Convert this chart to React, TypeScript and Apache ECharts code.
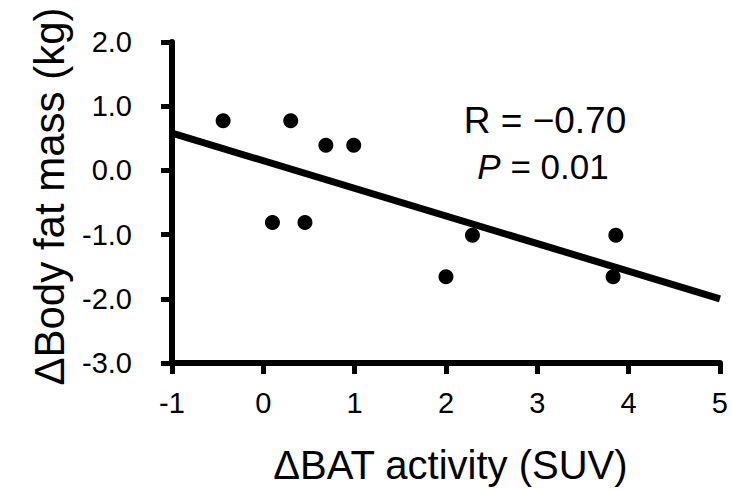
import React, { useEffect, useRef } from "react";
import * as echarts from "echarts";

const xValues = [-0.44, 0.3, 0.685, 0.99, 0.1, 0.456, 2.29, 2.0, 3.86, 3.83];
const yValues = [0.775, 0.775, 0.39, 0.39, -0.81, -0.81, -1.01, -1.655, -1.01, -1.655];
const fitX = [-1, 5];
const fitY = [0.58, -2.0];
const xTitle = "ΔBAT activity (SUV)";
const yTitle = "ΔBody fat mass (kg)";
const rText = "R = −0.70";
const pValue = "0.01";

const FONT = "Liberation Sans, Arial, Helvetica, sans-serif";

export default function App() {
  const ref = useRef<HTMLDivElement>(null);
  useEffect(() => {
    document.body.style.margin = "0";
    if (!ref.current) return;
    const chart = echarts.init(ref.current, null, { renderer: "svg" });
    const axisCommon = {
      type: "value" as const,
      interval: 1,
      splitLine: { show: false },
      axisLine: { show: true, onZero: false, lineStyle: { color: "#000", width: 6 } },
      axisTick: { show: true, length: 11, lineStyle: { color: "#000", width: 5 } },
      nameLocation: "middle" as const,
    };
    chart.setOption({
      animation: false,
      backgroundColor: "#fff",
      grid: { left: 172, right: 7, top: 42, bottom: 125.5 },
      xAxis: {
        ...axisCommon,
        min: -1,
        max: 5,
        name: xTitle,
        nameGap: 82,
        nameTextStyle: { color: "#000", fontSize: 40, fontFamily: FONT, padding: [0, 0, 0, 9] },
        axisLabel: { color: "#000", fontSize: 29, fontFamily: FONT, margin: 25 },
      },
      yAxis: {
        ...axisCommon,
        min: -3,
        max: 2,
        name: yTitle,
        nameGap: 102,
        nameTextStyle: { color: "#000", fontSize: 42, fontFamily: FONT, padding: [0, 0, 0, 12] },
        axisLabel: {
          color: "#000",
          fontSize: 29,
          fontFamily: FONT,
          margin: 40,
          formatter: (v: number) => v.toFixed(1),
        },
      },
      series: [
        {
          type: "line",
          data: fitX.map((x, i) => [x, fitY[i]]),
          showSymbol: false,
          symbol: "none",
          lineStyle: { color: "#000", width: 7 },
          z: 2,
        },
        {
          type: "scatter",
          data: xValues.map((x, i) => [x, yValues[i]]),
          symbol: "circle",
          symbolSize: 15,
          itemStyle: { color: "#000", opacity: 1 },
          z: 3,
        },
      ],
      graphic: [
        {
          type: "text",
          x: 545,
          y: 139,
          style: {
            text: rText,
            fill: "#000",
            fontSize: 37,
            fontFamily: FONT,
            align: "center",
            verticalAlign: "bottom",
          },
        },
        {
          type: "text",
          x: 543,
          y: 184,
          style: {
            text: "{i|P} = " + pValue,
            fill: "#000",
            fontSize: 35,
            fontFamily: FONT,
            align: "center",
            verticalAlign: "bottom",
            rich: {
              i: { fontStyle: "italic", fontSize: 35, fontFamily: FONT, fill: "#000" },
            },
          },
        },
      ],
    });
    return () => chart.dispose();
  }, []);
  return <div ref={ref} style={{ width: 731, height: 490 }} />;
}
